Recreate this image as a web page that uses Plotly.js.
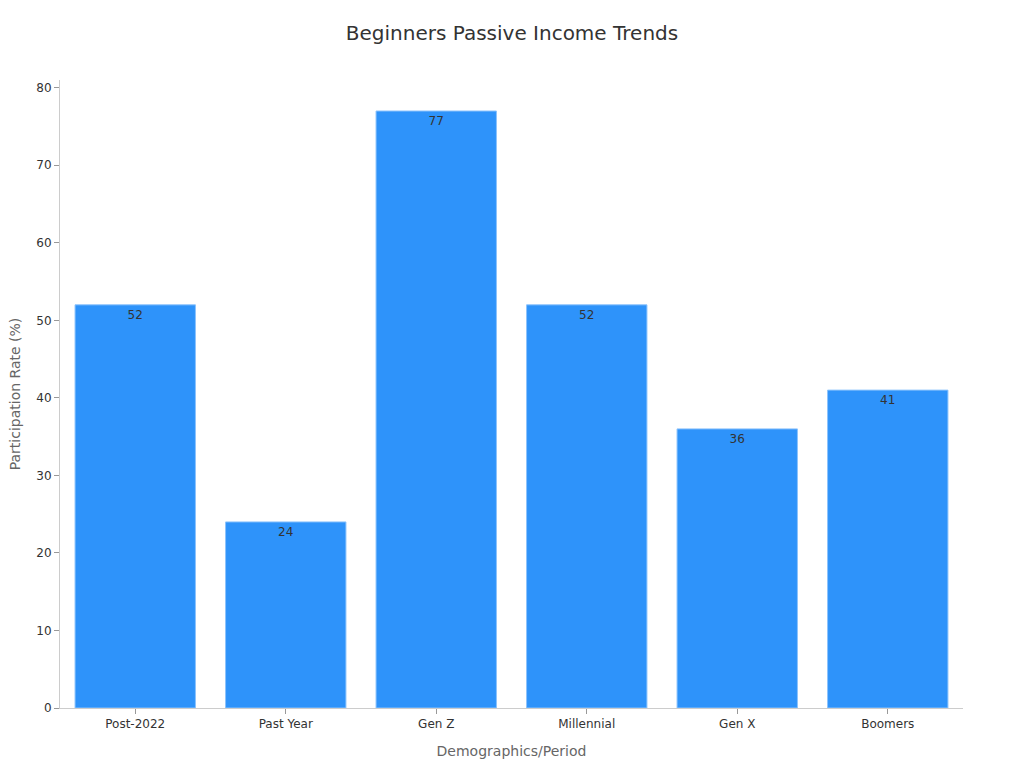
<!DOCTYPE html>
<html>
<head>
<meta charset="utf-8">
<script src="https://cdn.plot.ly/plotly-3.0.1.min.js"></script>
<style>html,body{margin:0;padding:0;background:#fff;}#chart{width:1024px;height:768px;}</style>
</head>
<body>
<div id="chart"></div>
<script>
const categories = ["Post-2022", "Past Year", "Gen Z", "Millennial", "Gen X", "Boomers"];
const values = [52, 24, 77, 52, 36, 41];

const trace = {
  type: "bar",
  x: categories,
  y: values,
  text: values.map(String),
  textposition: "inside",
  insidetextanchor: "end",
  textangle: 0,
  textfont: {family: "DejaVu Sans, sans-serif", size: 12, color: "#333333"},
  marker: {color: "#2E93FA", line: {color: "#8CC3FC", width: 1}},
  hoverinfo: "x+y"
};

const layout = {
  width: 1024,
  height: 768,
  margin: {l: 60, r: 61, t: 80, b: 60},
  paper_bgcolor: "#ffffff",
  plot_bgcolor: "#ffffff",
  font: {family: "DejaVu Sans, sans-serif", size: 12, color: "#333333"},
  title: {text: "Beginners Passive Income Trends", x: 0.5, xanchor: "center", y: 0.957, yanchor: "middle",
          font: {family: "DejaVu Sans, sans-serif", size: 20, color: "#333333"}},
  bargap: 0.2,
  showlegend: false,
  xaxis: {
    title: {text: "Demographics/Period", font: {size: 14, color: "#666666"}, standoff: 15},
    showline: true, linecolor: "#cccccc", linewidth: 1,
    ticks: "outside", ticklen: 5, tickcolor: "#999999",
    showgrid: false, zeroline: false,
    tickfont: {size: 12, color: "#333333"}
  },
  yaxis: {
    title: {text: "Participation Rate (%)", font: {size: 14, color: "#666666"}, standoff: 12},
    range: [0, 81],
    dtick: 10,
    showline: true, linecolor: "#cccccc", linewidth: 1,
    ticks: "outside", ticklen: 5, tickcolor: "#999999",
    showgrid: false, zeroline: false,
    tickfont: {size: 12, color: "#333333"}
  }
};

Plotly.newPlot("chart", [trace], layout, {displayModeBar: false, staticPlot: true});
</script>
</body>
</html>
